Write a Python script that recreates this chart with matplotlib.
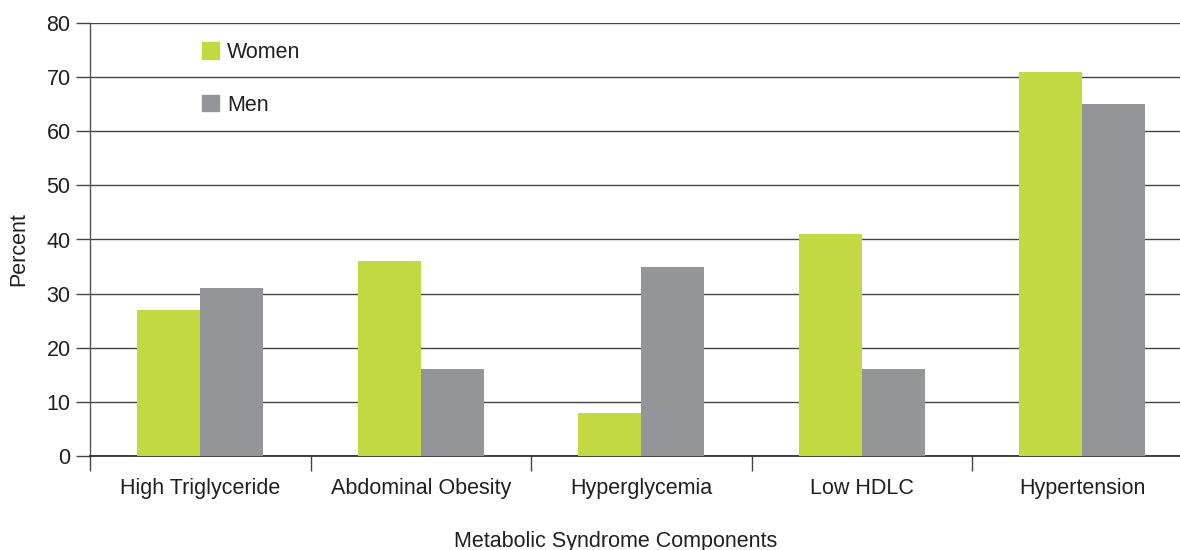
import matplotlib
matplotlib.use("Agg")
import matplotlib.pyplot as plt
from matplotlib.patches import Patch
import numpy as np

categories = ["High Triglyceride", "Abdominal Obesity", "Hyperglycemia", "Low HDLC", "Hypertension"]
women = [27, 36, 8, 41, 71]
men = [31, 16, 35, 16, 65]
yticks = [0, 10, 20, 30, 40, 50, 60, 70, 80]

plt.rcParams['font.family'] = ['Liberation Sans', 'DejaVu Sans']

W, H = 1180, 550
FS = 15.5
TXT = "#231f20"
fig = plt.figure(figsize=(W/100, H/100), dpi=100)
ax = fig.add_axes([90/W, (H-456)/H, (1180-90)/W, (456-23)/H])

green = "#c2d941"
gray = "#939598"
x = np.arange(len(categories))
bw = 63/220.5
ax.bar(x - bw/2, women, bw, color=green, zorder=3, label="Women")
ax.bar(x + bw/2, men, bw, color=gray, zorder=3, label="Men")

ax.set_ylim(0, 80)
ax.set_xlim(-0.5, -0.5 + 1090/220.5)
ax.set_yticks(yticks)
ax.yaxis.grid(True, color="#444444", linewidth=1.0, zorder=0)
ax.set_axisbelow(True)

ax.set_xticks(x)
ax.set_xticklabels(categories, fontsize=FS, color=TXT)
ax.tick_params(axis='x', which='major', length=0, pad=16)
ax.set_xticks(np.arange(len(categories)) - 0.5, minor=True)
ax.tick_params(axis='x', which='minor', length=11, width=1, color="#444444", direction='out')
ax.tick_params(axis='y', length=10, width=1, color="#444444", labelsize=FS, labelcolor=TXT, pad=4)

for s in ["top", "right"]:
    ax.spines[s].set_visible(False)
ax.spines["left"].set_color("#555555")
ax.spines["bottom"].set_color("#222222")
ax.spines["left"].set_linewidth(1)
ax.spines["bottom"].set_linewidth(1.2)

fig.text(19/W, (H-249)/H, "Percent", fontsize=FS, color=TXT, rotation=90,
         ha="center", va="center")
fig.text(616/W, (H-542)/H, "Metabolic Syndrome Components", fontsize=FS,
         color=TXT, ha="center", va="center")

handles = [Patch(color=green), Patch(color=gray)]
leg = ax.legend(handles, ["Women", "Men"], loc="upper left",
                bbox_to_anchor=((202-90)/1090, (456-42)/433), frameon=False,
                fontsize=FS, handlelength=0.78, handleheight=0.78,
                handletextpad=0.4, labelspacing=1.48, borderpad=0, borderaxespad=0)
for t in leg.get_texts():
    t.set_color(TXT)

fig.savefig("out.png", dpi=100)
